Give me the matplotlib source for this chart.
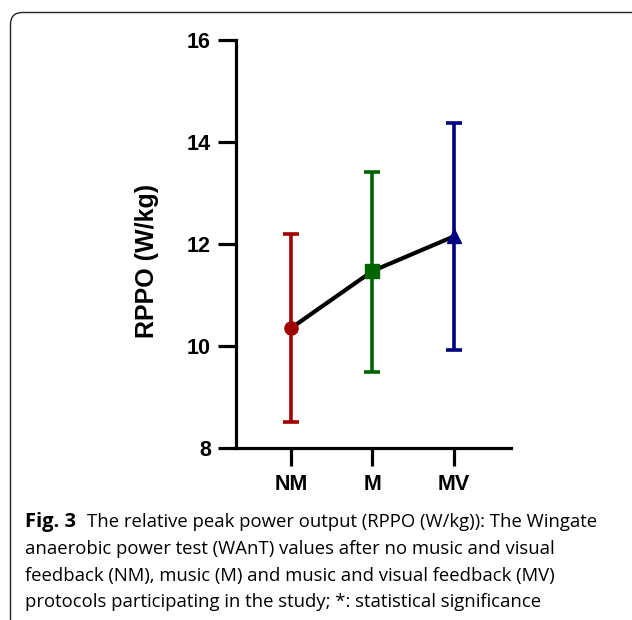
import matplotlib.pyplot as plt
from matplotlib.patches import FancyBboxPatch

conditions = ["NM", "M", "MV"]
means = [10.35, 11.47, 12.15]
upper = [12.20, 13.41, 14.37]
lower = [8.51, 9.49, 9.92]
colors = ["#a00000", "#006400", "#000080"]
markers = ["o", "s", "^"]

caption_lines = [
    "The relative peak power output (RPPO (W/kg)): The Wingate",
    "anaerobic power test (WAnT) values after no music and visual",
    "feedback (NM), music (M) and music and visual feedback (MV)",
    "protocols participating in the study; *: statistical significance",
]

fig = plt.figure(figsize=(6.32, 6.2), dpi=100)
ax = fig.add_axes([236 / 632, 1 - 448 / 620, (511 - 236) / 632, (448 - 40) / 620])

xs = list(range(len(conditions)))

# mean line
ax.plot(xs, means, color="black", lw=3, zorder=2, solid_capstyle="butt")

for x, m, hi, lo, c, mk in zip(xs, means, upper, lower, colors, markers):
    ax.errorbar(x, m, yerr=[[m - lo], [hi - m]], fmt=mk, color=c,
                ecolor=c, elinewidth=2.6, capsize=6, capthick=2.6,
                markersize=9.5, zorder=3)

ax.set_xlim(-0.675, 2.70)
ax.set_ylim(8, 16)
ax.set_yticks([8, 10, 12, 14, 16])
ax.set_xticks(xs)
ax.set_xticklabels(conditions)

for s in ["top", "right"]:
    ax.spines[s].set_visible(False)
for s in ["left", "bottom"]:
    ax.spines[s].set_linewidth(2.3)

ax.tick_params(axis="both", width=2.3, length=13, labelsize=15.5)
ax.tick_params(axis="y", pad=5)
ax.tick_params(axis="x", pad=6)
for lab in ax.get_xticklabels() + ax.get_yticklabels():
    lab.set_fontweight("bold")
    lab.set_family("Liberation Sans")

fig.text(147 / 632, 1 - 261 / 620, "RPPO (W/kg)", rotation=90,
         ha="center", va="center", fontsize=18, fontweight="bold",
         family="Liberation Sans")

# caption
cap_y = [522, 549, 576, 602]
fs = 13.3
fig.text(25 / 632, 1 - cap_y[0] / 620, "Fig. 3", fontsize=14.5,
         fontweight="bold", family="Open Sans", va="center", ha="left")
fig.text(87 / 632, 1 - cap_y[0] / 620, caption_lines[0], fontsize=fs,
         family="Open Sans", va="center", ha="left")
for yy, line in zip(cap_y[1:], caption_lines[1:]):
    fig.text(25 / 632, 1 - yy / 620, line, fontsize=fs,
             family="Open Sans", va="center", ha="left")

# rounded frame around the figure panel
frame = FancyBboxPatch((10.5, -30), 700, 620 - 12.5 + 30,
                       boxstyle="round,pad=0,rounding_size=12",
                       transform=None, fill=False, edgecolor="#222222",
                       lw=1.0)
fig.patches.append(frame)

fig.savefig("out.png", dpi=100)
